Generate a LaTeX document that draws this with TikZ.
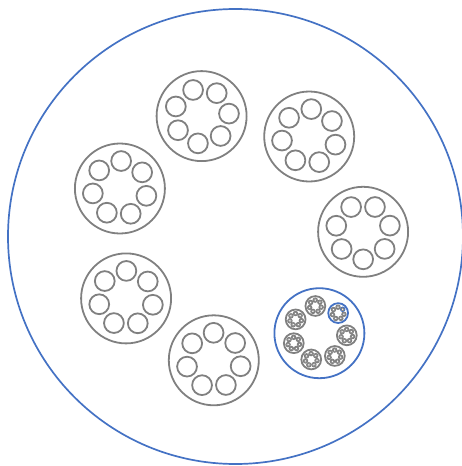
\documentclass[tikz,border=0pt]{standalone}
\definecolor{ringblue}{HTML}{4472C4}
\definecolor{ringgrey}{HTML}{808080}
\begin{document}
\begin{tikzpicture}[x=1pt,y=-1pt,
  bigring/.style={draw=ringblue,line width=1.7pt},
  medring/.style={draw=ringgrey,line width=1.8pt},
  medblue/.style={draw=ringblue,line width=1.8pt},
  smallring/.style={draw=ringgrey,line width=1.8pt},
  smallgrey/.style={draw=ringgrey,line width=1.8pt},
  smallblue/.style={draw=ringblue,line width=1.8pt},
  tinyring/.style={draw=ringgrey,line width=1.0pt},
  tinyblue/.style={draw=ringblue,line width=1.0pt},
  dotring/.style={draw=ringgrey,line width=0.4pt}]
\useasboundingbox (0,0) rectangle (462,466);
% outer circle
\draw[bigring] (235.5,236.5) circle[radius=227.5];
% six grey medium circles
\foreach \cx/\cy/\rot in {201.6/116.1/5.2, 309.2/136.5/34.2, 363.1/231.8/13, 213.8/360.3/39, 126.1/298.4/38, 119.9/188.5/36} {
  \draw[medring] (\cx,\cy) circle[radius=45];
  \foreach \j in {0,...,6} {
    \pgfmathsetmacro\ang{\rot+51.4286*\j}
    \draw[smallring] ({\cx+27.5*cos(\ang)},{\cy-27.5*sin(\ang)}) circle[radius=9.9];
  }
}
% blue medium circle with its recursive content
\def\bx{319.4}\def\by{333.2}
\draw[medblue] (\bx,\by) circle[radius=45];
\foreach \j in {0,...,6} {
  \pgfmathsetmacro\ang{47+51.4286*\j}
  \pgfmathsetmacro\sx{\bx+27.5*cos(\ang)}
  \pgfmathsetmacro\sy{\by-27.5*sin(\ang)}
  \ifnum\j=0
    \draw[smallblue] (\sx,\sy) circle[radius=9.9];
  \else
    \draw[smallgrey] (\sx,\sy) circle[radius=9.9];
  \fi
  \foreach \i in {0,...,6} {
    \pgfmathsetmacro\tang{40+51.4286*\i}
    \pgfmathsetmacro\tx{\sx+5.9*cos(\tang)}
    \pgfmathsetmacro\ty{\sy-5.9*sin(\tang)}
    \pgfmathtruncatemacro\isblue{(\j==0)&&(\i==0)}
    \ifnum\isblue=1
      \draw[tinyblue] (\tx,\ty) circle[radius=2.2];
    \else
      \draw[tinyring] (\tx,\ty) circle[radius=2.2];
    \fi
    \foreach \m in {0,...,6} {
      \pgfmathsetmacro\qang{40+51.4286*\m}
      \draw[dotring] ({\tx+1.3*cos(\qang)},{\ty-1.3*sin(\qang)}) circle[radius=0.45];
    }
  }
}
\end{tikzpicture}
\end{document}
